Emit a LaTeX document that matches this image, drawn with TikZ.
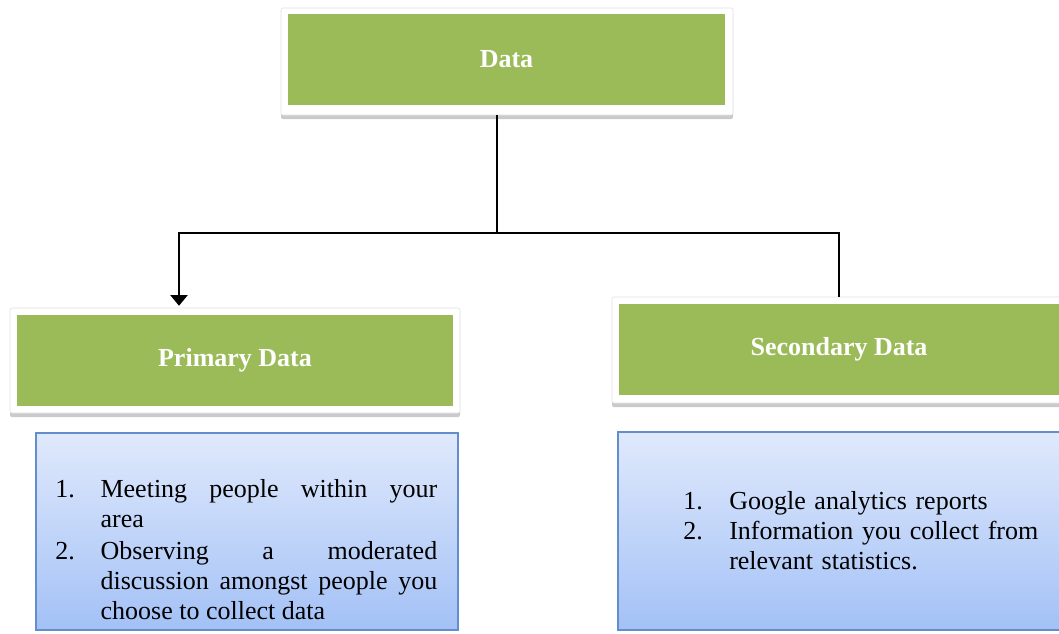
\documentclass[tikz,border=0pt]{standalone}
\usepackage{fontspec}
\setmainfont{Liberation Serif}
\usetikzlibrary{arrows.meta, shadows, calc}
\definecolor{verdeoliva}{HTML}{9BBB59}
\definecolor{celesteA}{RGB}{224,233,252}
\definecolor{celesteB}{RGB}{163,193,246}
\definecolor{bordoblu}{RGB}{98,143,204}
\newcommand{\pix}{0.75pt}
\newcommand{\voce}[3]{\noindent\hangindent=#1\hangafter=1\makebox[#1][l]{#2}#3\par}

\tikzset{
    cornice/.style = {fill=white, draw=black!12, rounded corners=1.5pt, inner sep=0pt,
        drop shadow={shadow xshift=0pt, shadow yshift=-3pt, opacity=.35, fill=black!60}},
    titolo/.style = {fill=verdeoliva, text=white, inner sep=0pt,
        font=\fontsize{19.5}{22}\selectfont\bfseries},
    riquadro/.style = {top color=celesteA, bottom color=celesteB, draw=bordoblu,
        line width=1pt, inner sep=0pt,
        drop shadow={shadow xshift=1pt, shadow yshift=-1pt, opacity=.3}},
    elenco/.style = {inner sep=0pt, anchor=base west, font=\fontsize{19.5}{22.5}\selectfont},
    linea/.style = {line width=1.1pt, black}
}

\begin{document}
\begin{tikzpicture}[x=\pix, y=-\pix]
    \useasboundingbox (0,0) rectangle (1059,633);
    % Riquadri verdi
    \node[cornice, minimum width=452*\pix, minimum height=107*\pix] (cornicedati) at (507,61.5) {};
    \node[titolo, minimum width=437*\pix, minimum height=91*\pix] (dati) at (506.5,59.5) {Data};
    \node[cornice, minimum width=450*\pix, minimum height=105*\pix] (corniceprimaria) at (235,360.5) {};
    \node[titolo, minimum width=436*\pix, minimum height=91*\pix] (primaria) at (235,360.5) {Primary Data};
    \node[cornice, minimum width=454*\pix, minimum height=106*\pix] (cornicesecondaria) at (839,350) {};
    \node[titolo, minimum width=440*\pix, minimum height=91*\pix] (secondaria) at (839,349.5) {Secondary Data};
    % Riquadri azzurri
    \node[riquadro, minimum width=422*\pix, minimum height=197*\pix] (boxprimaria) at (247,531.5) {};
    \node[riquadro, minimum width=446*\pix, minimum height=198*\pix] (boxsecondaria) at (841,531) {};
    % Elenchi
    \node[elenco, text width=286.5pt, align=justify] (elencoprimario) at (55,497) {%
        \voce{34pt}{1.}{Meeting people within your\linebreak area}
        \vspace{1.5pt}
        \voce{34pt}{2.}{Observing a moderated\linebreak discussion amongst people you\linebreak choose to collect data}};
    \node[elenco, text width=270pt, align=left] (elencosecondario) at (683,509) {%
        \voce{34.5pt}{1.}{Google analytics reports}
        \voce{34.5pt}{2.}{Information you collect from\newline relevant statistics.}};
    % Collegamenti
    \coordinate (snodo) at (497,233);
    \draw[linea] (cornicedati.south -| snodo) -- (snodo);
    \draw[linea, -{Triangle[width=13pt, length=8pt]}] (snodo) -| ($(corniceprimaria.north)+(-56,-2)$);
    \draw[linea] (snodo) -| (cornicesecondaria.north);
\end{tikzpicture}
\end{document}
